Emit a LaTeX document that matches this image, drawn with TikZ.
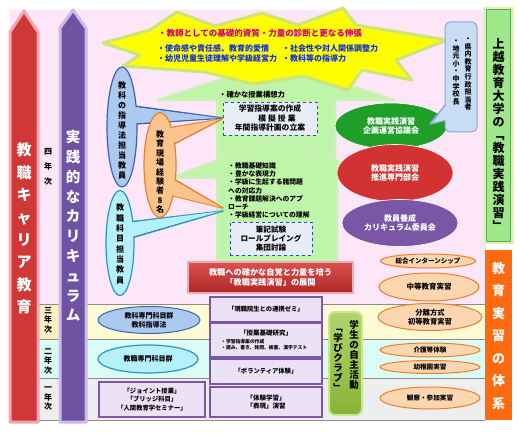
\documentclass[tikz,border=0pt]{standalone}
\usepackage{fontspec}
\setmainfont{Noto Sans CJK JP}
\usetikzlibrary{shapes.geometric}
\definecolor{pinkbg}{RGB}{252,230,248}
\definecolor{band3}{RGB}{254,250,212}
\definecolor{band3l}{RGB}{253,238,196}
\definecolor{band2}{RGB}{218,252,244}
\definecolor{band1}{RGB}{238,238,238}
\definecolor{bandline}{RGB}{140,140,140}
\definecolor{arrred}{RGB}{208,56,56}
\definecolor{arrredglow}{RGB}{240,165,175}
\definecolor{arrpur}{RGB}{112,82,162}
\definecolor{arrpurglow}{RGB}{205,185,235}
\definecolor{colgreen}{RGB}{160,232,140}
\definecolor{colgreend}{RGB}{95,165,85}
\definecolor{colglow}{RGB}{225,242,170}
\definecolor{colorange}{RGB}{255,106,16}
\definecolor{staryel}{RGB}{255,255,0}
\definecolor{starglow}{RGB}{205,228,120}
\definecolor{starmag}{RGB}{215,0,120}
\definecolor{starblue}{RGB}{20,50,210}
\definecolor{arrgreen}{RGB}{190,245,168}
\definecolor{arrgreend}{RGB}{205,240,185}
\definecolor{dboxfill}{RGB}{232,236,246}
\definecolor{dboxdraw}{RGB}{40,70,210}
\definecolor{bannerred}{RGB}{205,45,45}
\definecolor{bannerglow}{RGB}{240,170,180}
\definecolor{lavfill}{RGB}{236,226,246}
\definecolor{lavdraw}{RGB}{125,85,170}
\definecolor{peachfill}{RGB}{252,214,176}
\definecolor{peachdraw}{RGB}{236,126,40}
\definecolor{bluefill}{RGB}{172,202,240}
\definecolor{bluedraw}{RGB}{60,100,170}
\definecolor{cyanfill}{RGB}{182,240,250}
\definecolor{cyandraw}{RGB}{40,150,190}
\definecolor{orfill}{RGB}{250,196,140}
\definecolor{ordraw}{RGB}{232,130,50}
\definecolor{ellgreen}{RGB}{30,160,40}
\definecolor{ellred}{RGB}{210,50,50}
\definecolor{ellpur}{RGB}{122,86,166}
\definecolor{lbfill}{RGB}{200,220,246}
\definecolor{lbdraw}{RGB}{140,170,210}
\definecolor{clubfill}{RGB}{150,200,60}
\definecolor{clubdraw}{RGB}{205,230,145}
\makeatletter
\def\vs#1{\vs@a#1\vs@end}
\def\vs@a#1#2\vs@end{#1\if\relax\detokenize{#2}\relax\expandafter\@gobble\else\expandafter\@firstofone\fi{\\\vs@a#2\vs@end}}
\makeatother
\tikzset{
  t/.style 2 args={font=\bfseries\fontsize{#1}{#2}\selectfont},
  lav/.style={rectangle, fill=lavfill, draw=lavdraw, line width=1.3pt},
  peach/.style={ellipse, fill=peachfill, draw=peachdraw, line width=1pt},
  dbox/.style={rectangle, fill=dboxfill, draw=dboxdraw, dashed, line width=0.7pt},
  bigell/.style={ellipse, draw=white, line width=0.6pt, text=white},
}
\begin{document}
\begin{tikzpicture}[x=1pt,y=-1pt, every node/.style={inner sep=0pt, align=center}]
\useasboundingbox (0,0) rectangle (520,433);
\fill[white] (0,0) rectangle (520,433);
% background and year bands
\fill[pinkbg] (10,10) rectangle (486,304);
\fill[band3] (38,304) rectangle (485,339);
\fill[band3l] (38,304) rectangle (60,339);
\fill[band2] (38,339) rectangle (485,378);
\fill[band1] (38,378) rectangle (485,420);
\draw[bandline, line width=0.7pt] (38,304) -- (485,304) (38,339) -- (485,339) (38,378) -- (485,378) (38,420) -- (485,420) (38,304) -- (38,420);
% left vertical arrows
\path[draw=arrredglow, line width=3pt, fill=arrred, line join=round] (10,32) -- (24,11) -- (38,32) -- (38,422) -- (10,422) -- cycle;
\node[t={15}{22.4}, text=white] (redtxt) at (24,228.5) {\vs{教職キャリア教育}};
\path[draw=arrpurglow, line width=3pt, fill=arrpur, line join=round] (60,28) -- (73,10) -- (86,28) -- (86,422) -- (60,422) -- cycle;
\node[t={14.5}{19.8}, text=white] (purtxt) at (73,226) {\vs{実践的なカリキュラム}};
% year labels
\node[t={8}{15}] (y4) at (48,167) {\vs{四年次}};
\node[t={8}{9.5}] (y3) at (48,320) {\vs{三年次}};
\node[t={8}{9.5}] (y2) at (48,361) {\vs{二年次}};
\node[t={8}{9.5}] (y1) at (48,399) {\vs{一年次}};
% green up arrows
\path[draw=arrgreend, line width=2.5pt, fill=arrgreen, line join=round] (158,100) -- (276,61) -- (394,100) -- (335,100) -- (335,175) -- (217,175) -- (217,100) -- cycle;
\path[draw=arrgreend, line width=2.5pt, fill=arrgreen, line join=round] (172,178) -- (276,137) -- (380,178) -- (337,178) -- (337,262) -- (217,262) -- (217,178) -- cycle;
% starburst
\path[draw=starglow, line width=3pt, fill=staryel, line join=round] (103,43) -- (150,30) -- (177,12) -- (215,26) -- (262,13) -- (298,25) -- (343,8) -- (356,25) -- (447,40) -- (396,60) -- (412,80) -- (362,70) -- (348,90) -- (303,76) -- (253,84) -- (205,72) -- (123,66) -- (140,55) -- cycle;
\node[t={8.5}{10}, text=starmag] (st1) at (260,33) {・教師としての基礎的資質・力量の診断と更なる伸張};
\node[t={8}{10}, text=starblue, anchor=west] (st2) at (157,48) {・使命感や責任感、教育的愛情};
\node[t={8}{10}, text=starblue, anchor=west] (st3) at (157,58) {・幼児児童生徒理解や学級経営力};
\node[t={8}{10}, text=starblue, anchor=west] (st4) at (282,48) {・社会性や対人関係調整力};
\node[t={8}{10}, text=starblue, anchor=west] (st5) at (282,58) {・教科等の指導力};
% upper arrow content
\node[t={7.3}{9}, anchor=west] (ua) at (219,95) {・確かな授業構想力};
\node[dbox, minimum width=94, minimum height=33] (db1) at (270,118.5) {};
\node[t={7.8}{9}] (db1a) at (270,109) {学習指導案の作成};
\node[t={7.8}{9}] (db1b) at (277,119) {模\kern2pt擬\kern2pt授\kern2pt業};
\node[t={7.8}{9}] (db1c) at (270,128) {年間指導計画の立案};
% lower arrow content
\node[t={6.8}{8.2}, anchor=north west, align=left] (la) at (228,162.5) {・教職基礎知識\\・豊かな表現力\\・学級に生起する諸問題\\への対応力\\・教育課題解決へのアプ\\ローチ\\・学級経営についての理解};
\node[dbox, minimum width=82, minimum height=33] (db2) at (271,238.5) {};
\node[t={7.6}{9}] (db2t) at (db2) {筆記試験\\ロールプレイング\\集団討論};
% left ellipses with callout tails
\path[draw=bluedraw, line width=1.6pt, line join=round] (133,106) -- (222,118) -- (134,124);
\node[ellipse, fill=bluefill, draw=bluedraw, line width=1.2pt, minimum width=30, minimum height=120] (bl) at (122,127) {};
\fill[bluefill] (132,106.8) -- (220,118) -- (132,123.2) -- cycle;
\node[t={8}{10}] (bltxt) at (122,130) {\vs{教科の指導法担当教員}};
\path[draw=cyandraw, line width=1.6pt, line join=round] (130,222) -- (223,211) -- (131,238);
\node[ellipse, fill=cyanfill, draw=cyandraw, line width=1.2pt, minimum width=28, minimum height=105] (cy) at (120,243) {};
\fill[cyanfill] (129,222.8) -- (221,211.2) -- (129,237.2) -- cycle;
\node[t={8}{10.3}] (cytxt) at (120,244) {\vs{教職科目担当教員}};
\path[draw=ordraw, line width=1.6pt, line join=round] (169,128) -- (222,119) -- (172,145);
\path[draw=ordraw, line width=1.6pt, line join=round] (172,178) -- (223,208) -- (170,195);
\node[ellipse, fill=orfill, draw=ordraw, line width=1.2pt, minimum width=32, minimum height=105] (or) at (160,165) {};
\fill[orfill] (168,128.8) -- (220,119.3) -- (170,144.2) -- cycle;
\fill[orfill] (171,178.8) -- (221,207.4) -- (168,194.2) -- cycle;
\node[t={8}{9.4}] (ortxt) at (160,172) {\vs{教育現場経験者8名}};
% right committee ellipses
\node[bigell, fill=ellgreen, minimum width=112, minimum height=46, t={8}{9.5}] (eg) at (391,126) {教職実践演習\\企画運営協議会};
\node[bigell, fill=ellred, minimum width=116, minimum height=57, t={8}{9.5}] (er) at (395,173) {教職実践演習\\推進専門部会};
\node[bigell, fill=ellpur, minimum width=116, minimum height=47, t={8}{9.5}] (ep) at (400,223) {教員養成\\カリキュラム委員会};
% light blue callout box
\path[draw=lbdraw, line width=1.6pt, line join=round] (446,104) -- (430,124) -- (446,120);
\node[rectangle, rounded corners=5pt, fill=lbfill, draw=lbdraw, line width=1pt, minimum width=32, minimum height=110] (lb) at (461,77) {};
\fill[lbfill] (447,104.8) -- (432,123) -- (447,119.5) -- cycle;
\node[t={7}{7.6}] (lb1) at (468,74.2) {\vs{・県内教育行政担当者}};
\node[t={7}{7.6}] (lb2) at (456,72.4) {\vs{・地元小・中学校長}};
% right green column
\fill[colglow] (483,7) rectangle (514,244);
\node[rectangle, fill=colgreen, draw=colgreend, line width=0.8pt, minimum width=24, minimum height=232] (gc) at (498.5,125) {};
\node[t={12}{13}] (gctxt) at (498.5,134) {\vs{上越教育大学の﹁教職実践演習﹂}};
% red banner
\node[rectangle, draw=bannerglow, line width=1.5pt, top color=ellred!85!white, bottom color=bannerred!85!black, minimum width=165, minimum height=31, text=white, t={8.2}{10.5}] (bn) at (270.5,277.5) {教職への確かな自覚と力量を培う\\「教職実践演習」の展開};
% orange column
\node[rectangle, fill=colorange, minimum width=27, minimum height=170] (oc) at (498.5,335) {};
\node[t={13}{22.5}, text=white] (octxt) at (498.5,336) {\vs{教育実習の体系}};
% practice ellipses
\node[peach, minimum width=95, minimum height=14, t={6.5}{8}] (p1) at (428,261) {総合インターンシップ};
\node[peach, minimum width=100, minimum height=28, t={7.5}{9}] (p2) at (429,287) {中等教育実習};
\node[peach, minimum width=104, minimum height=27, t={7.3}{9.5}] (p3) at (430,317) {分離方式\\初等教育実習};
\node[peach, minimum width=100, minimum height=14, t={6.6}{8}] (p4) at (430,350) {介護等体験};
\node[peach, minimum width=100, minimum height=13, t={6.6}{8}] (p5) at (430,367) {幼稚園実習};
\node[peach, minimum width=100, minimum height=22, t={6.6}{8}] (p6) at (430,398) {観察・参加実習};
% curriculum items
\node[ellipse, fill=bluefill, draw=bluedraw, line width=1pt, minimum width=102, minimum height=27, t={7}{9}] (c3) at (149,320) {教科専門科目群\\教科指導法};
\node[ellipse, fill=cyanfill, draw=cyandraw, line width=1.2pt, minimum width=100, minimum height=28, t={7}{9}] (c2) at (148,359) {教職専門科目群};
\node[lav, minimum width=106, minimum height=35, t={6.3}{8.5}] (c1) at (152,399.5) {「ジョイント授業」\\「ブリッジ科目」\\「人間教育学セミナー」};
\node[lav, minimum width=112, minimum height=25, t={6.3}{8}] (m1) at (266,309.5) {「現職院生との連携ゼミ」};
\node[lav, minimum width=112, minimum height=34] (m2) at (266,340) {};
\node[t={6.5}{8}] (m2a) at (266,333) {「授業基礎研究」};
\node[t={4.8}{6.2}, anchor=north west, align=left] (m2b) at (221,339) {・学習指導案の作成\\・読み、書き、発問、板書、漢字テスト};
\node[lav, minimum width=112, minimum height=25, t={6.3}{8}] (m3) at (266,371.5) {「ボランティア体験」};
\node[lav, minimum width=112, minimum height=30, t={6.5}{8.5}] (m4) at (266,402) {「体験学習」\\「表現」演習};
% student club
\node[rectangle, rounded corners=6pt, draw=clubdraw, line width=2pt, top color=clubfill!75!white, bottom color=clubfill!90!black, minimum width=33, minimum height=103] (club) at (345.5,363.5) {};
\node[t={9.5}{10}] (club1) at (354,355) {\vs{学生の自主活動}};
\node[t={9.5}{10}] (club2) at (338,360) {\vs{﹁学びクラブ﹂}};
\end{tikzpicture}
\end{document}
